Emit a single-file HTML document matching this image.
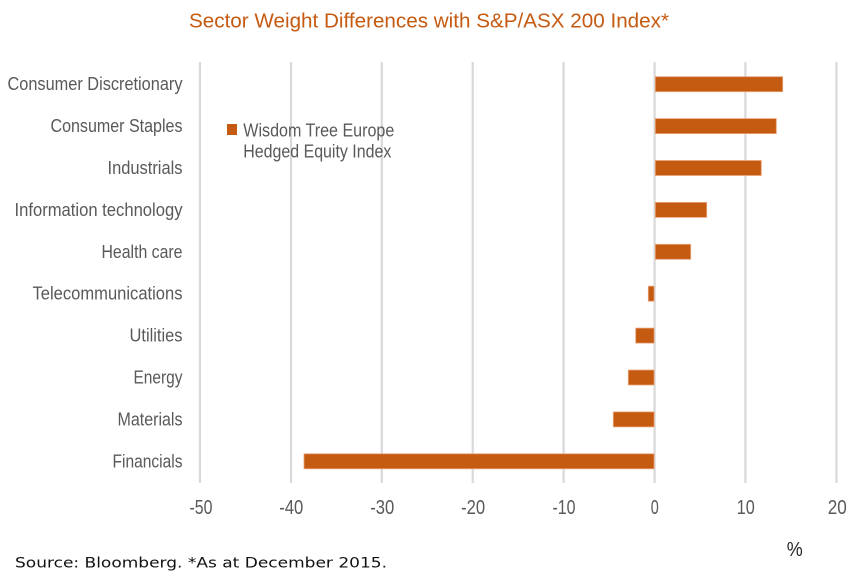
<!DOCTYPE html>
<html>
<head>
<meta charset="utf-8">
<style>
  html, body { margin:0; padding:0; background:#ffffff; }
  body { width:857px; height:583px; overflow:hidden; }
  svg { display:block; }
  .lbl { font-family:"Liberation Sans", Arial, sans-serif; font-size:18px; fill:#595959; }
  .tick { font-family:"Liberation Sans", Arial, sans-serif; font-size:20px; fill:#595959; }
</style>
</head>
<body>
<svg width="857" height="583" viewBox="0 0 857 583" xmlns="http://www.w3.org/2000/svg">
  <rect x="0" y="0" width="857" height="583" fill="#ffffff"/>

  <!-- Title -->
  <text x="189" y="27.5" font-family="Liberation Sans, Arial, sans-serif" font-size="20.5" fill="#C55A11" textLength="480" lengthAdjust="spacingAndGlyphs">Sector Weight Differences with S&amp;P/ASX 200 Index*</text>

  <!-- Gridlines -->
  <g stroke="#d9d9d9" stroke-width="2.2">
    <line x1="200" y1="62" x2="200" y2="483"/>
    <line x1="291" y1="62" x2="291" y2="483"/>
    <line x1="381.8" y1="62" x2="381.8" y2="483"/>
    <line x1="472.7" y1="62" x2="472.7" y2="483"/>
    <line x1="563.6" y1="62" x2="563.6" y2="483"/>
    <line x1="654.6" y1="62" x2="654.6" y2="483"/>
    <line x1="745.4" y1="62" x2="745.4" y2="483"/>
    <line x1="836.5" y1="62" x2="836.5" y2="483"/>
  </g>

  <!-- Bars -->
  <g fill="#C55A11" stroke="#eaa47c" stroke-width="0.8">
    <rect x="655.3" y="76.7" width="127.4" height="15"/>
    <rect x="655.3" y="118.6" width="121" height="15"/>
    <rect x="655.3" y="160.5" width="106" height="15"/>
    <rect x="655.3" y="202.4" width="51.4" height="15"/>
    <rect x="655.3" y="244.3" width="35.4" height="15"/>
    <rect x="648.3" y="286.2" width="5.8" height="15"/>
    <rect x="635.7" y="328.1" width="18.4" height="15"/>
    <rect x="628.3" y="370.0" width="25.8" height="15"/>
    <rect x="613.3" y="411.9" width="40.8" height="15"/>
    <rect x="304" y="453.8" width="350.1" height="15"/>
  </g>

  <!-- Category labels -->
  <g class="lbl" text-anchor="end">
    <text x="182.5" y="90.2" textLength="175" lengthAdjust="spacingAndGlyphs">Consumer Discretionary</text>
    <text x="182.5" y="132.1" textLength="132" lengthAdjust="spacingAndGlyphs">Consumer Staples</text>
    <text x="182.5" y="174.0" textLength="75" lengthAdjust="spacingAndGlyphs">Industrials</text>
    <text x="182.5" y="215.9" textLength="168" lengthAdjust="spacingAndGlyphs">Information technology</text>
    <text x="182.5" y="257.8" textLength="81" lengthAdjust="spacingAndGlyphs">Health care</text>
    <text x="182.5" y="299.7" textLength="150" lengthAdjust="spacingAndGlyphs">Telecommunications</text>
    <text x="182.5" y="341.6" textLength="53" lengthAdjust="spacingAndGlyphs">Utilities</text>
    <text x="182.5" y="383.5" textLength="49" lengthAdjust="spacingAndGlyphs">Energy</text>
    <text x="182.5" y="425.4" textLength="65" lengthAdjust="spacingAndGlyphs">Materials</text>
    <text x="182.5" y="467.3" textLength="70" lengthAdjust="spacingAndGlyphs">Financials</text>
  </g>

  <!-- Legend -->
  <rect x="227" y="124" width="10" height="11" fill="#C55A11"/>
  <text class="lbl" x="243.3" y="136.5" textLength="151" lengthAdjust="spacingAndGlyphs">Wisdom Tree Europe</text>
  <text class="lbl" x="243.3" y="157.5" textLength="148" lengthAdjust="spacingAndGlyphs">Hedged Equity Index</text>

  <!-- X tick labels -->
  <g class="tick" text-anchor="middle">
    <text x="201" y="514" textLength="23" lengthAdjust="spacingAndGlyphs">-50</text>
    <text x="291.3" y="514" textLength="24" lengthAdjust="spacingAndGlyphs">-40</text>
    <text x="382.2" y="514" textLength="24" lengthAdjust="spacingAndGlyphs">-30</text>
    <text x="473.1" y="514" textLength="24" lengthAdjust="spacingAndGlyphs">-20</text>
    <text x="564" y="514" textLength="23" lengthAdjust="spacingAndGlyphs">-10</text>
    <text x="654.7" y="514" textLength="8" lengthAdjust="spacingAndGlyphs">0</text>
    <text x="745.8" y="514" textLength="18" lengthAdjust="spacingAndGlyphs">10</text>
    <text x="837.2" y="514" textLength="19" lengthAdjust="spacingAndGlyphs">20</text>
  </g>

  <!-- % unit -->
  <text x="794.7" y="556" text-anchor="middle" font-family="Liberation Sans, Arial, sans-serif" font-size="20" fill="#262626" textLength="16" lengthAdjust="spacingAndGlyphs">%</text>

  <!-- Source -->
  <text x="15" y="567.3" font-family="DejaVu Sans, Verdana, sans-serif" font-size="14" fill="#111111" textLength="372" lengthAdjust="spacingAndGlyphs">Source: Bloomberg. *As at December 2015.</text>
</svg>
</body>
</html>
